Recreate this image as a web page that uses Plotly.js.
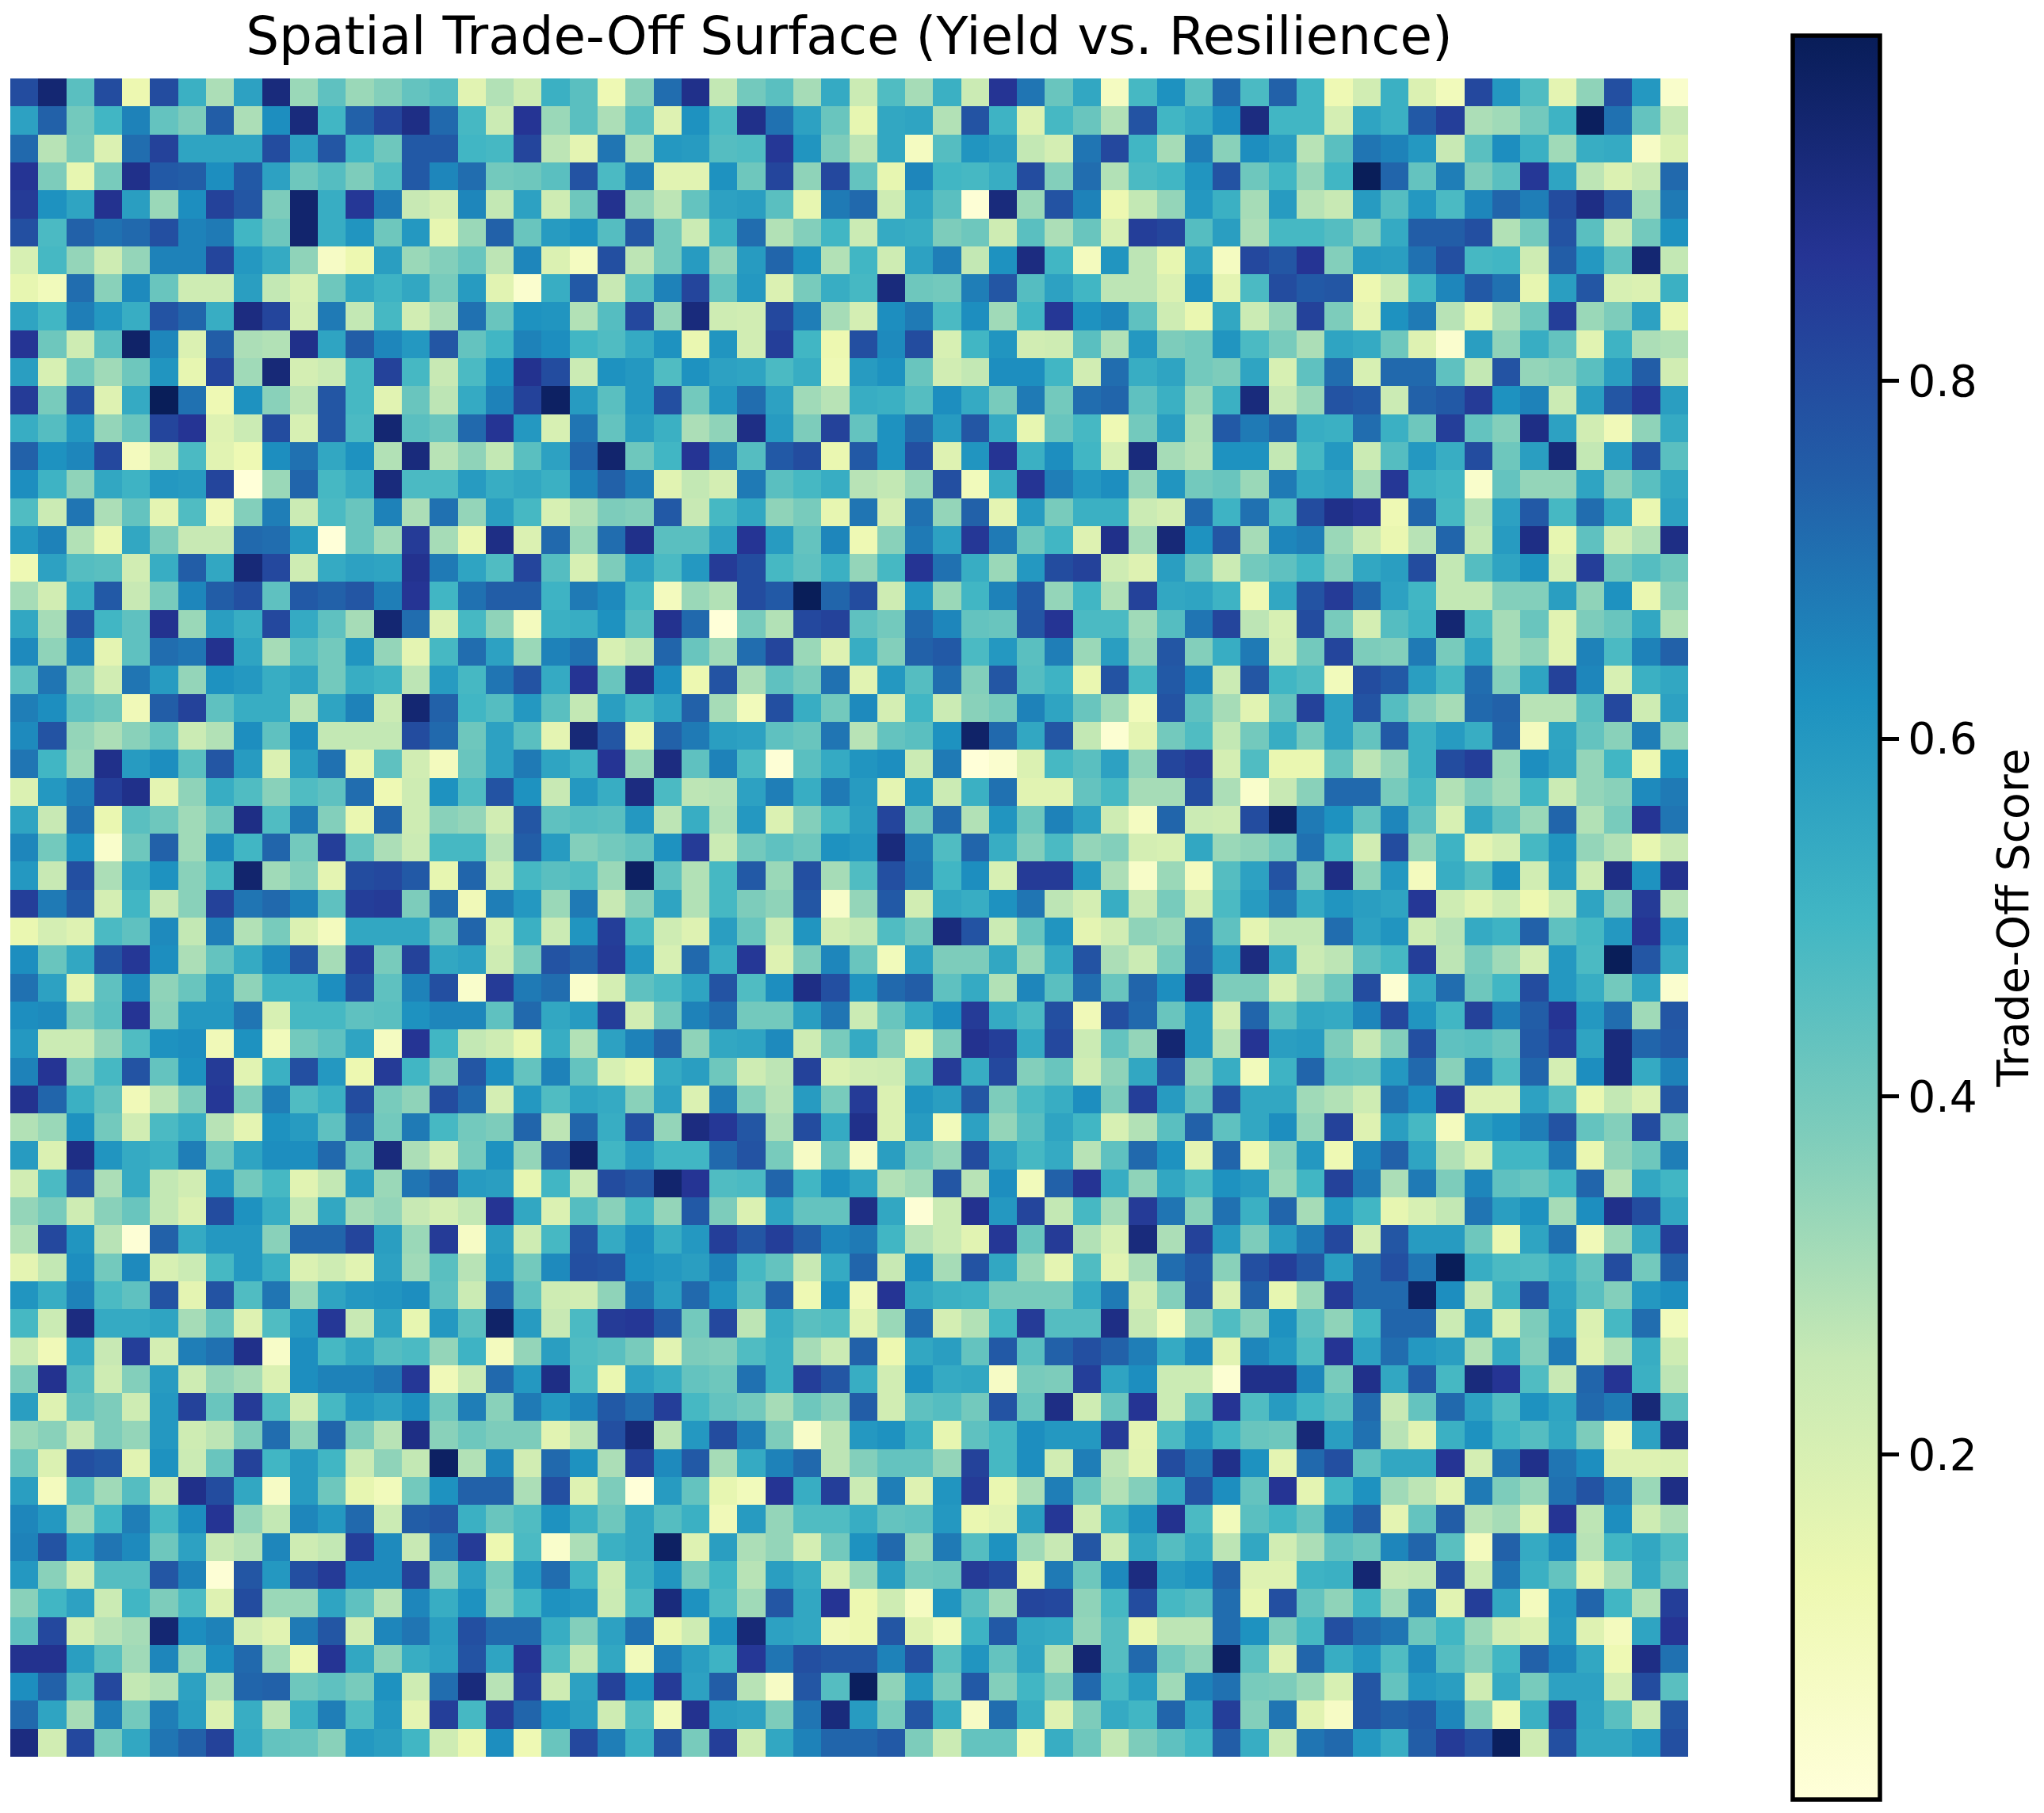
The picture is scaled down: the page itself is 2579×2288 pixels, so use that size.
<!DOCTYPE html>
<html><head><meta charset="utf-8">
<script src="https://cdn.plot.ly/plotly-3.0.1.min.js"></script>
<style>html,body{margin:0;padding:0;background:#fff}</style></head>
<body><div id="chart" style="width:2579px;height:2288px"></div>
<script>
// Trade-off score, in hundredths, one list per grid row
const r00=[80,94,45,80,13,80,52,30,57,92,33,44,33,37,43,46,17,29,23,52,45,12,36,71,89,26,40,45,31,54,24,47,31,52,24,87,69,42,55,8,49,62,45,72,48,74,50,12,22,52,19,10,81,60,47,16,35,79,60,5];
const r01=[57,74,40,50,66,43,38,75,30,63,92,50,74,82,90,72,49,24,87,33,45,30,45,18,62,48,89,70,57,42,15,55,56,29,78,51,18,49,42,29,78,50,54,63,91,50,50,21,56,52,76,84,30,32,40,51,98,70,43,25];
const r02=[72,28,39,19,71,83,56,56,56,80,57,77,50,41,76,76,50,49,82,27,16,69,29,60,59,46,47,86,61,38,27,55,8,46,61,58,26,21,69,81,50,31,67,36,63,58,28,45,69,66,60,25,45,63,52,32,53,54,7,19];
const r03=[87,38,15,39,89,76,75,63,76,57,41,46,38,47,76,65,71,40,41,45,78,48,67,17,17,62,41,82,35,81,43,15,65,50,49,53,80,37,71,29,48,50,61,78,41,50,34,50,99,73,43,67,38,45,86,56,27,19,25,72];
const r04=[85,62,56,88,58,33,63,83,77,38,95,53,86,68,25,21,65,26,57,23,41,88,34,27,43,57,58,45,15,68,72,23,56,45,2,92,33,78,66,13,26,34,60,52,31,59,28,25,59,46,60,48,65,73,67,80,90,78,32,68];
const r05=[79,48,74,70,72,79,66,68,50,41,95,53,61,41,60,15,33,74,42,59,62,46,77,40,24,52,71,29,37,50,24,54,53,38,41,23,45,30,42,20,84,82,46,58,30,49,49,46,37,54,75,75,79,29,40,78,45,24,40,62];
const r06=[20,49,34,23,34,66,66,82,60,54,35,7,13,58,33,37,42,27,65,19,8,79,27,40,59,34,59,73,62,29,50,23,57,67,26,62,91,50,9,61,27,15,57,8,81,77,87,37,59,58,70,79,49,50,23,75,60,44,94,26];
const r07=[15,10,71,36,64,42,23,23,58,26,20,41,55,51,55,39,59,17,4,53,76,25,46,66,82,43,60,19,39,53,49,92,41,40,67,77,46,57,50,27,27,19,63,16,48,80,76,77,13,24,50,65,76,70,15,58,77,20,19,52];
const r08=[56,50,67,60,53,78,73,53,91,82,21,68,26,49,22,30,70,42,62,61,29,46,81,34,92,23,22,81,67,31,21,63,68,48,63,32,50,86,62,65,44,23,14,55,24,34,83,38,16,62,68,28,14,30,41,84,33,38,57,14];
const r09=[87,41,23,45,96,65,19,75,30,29,89,56,75,65,60,77,43,50,66,63,50,47,54,62,14,61,22,84,50,13,79,64,80,20,50,61,22,23,45,29,60,38,40,61,48,39,30,56,54,41,18,4,58,35,53,43,17,51,30,29];
const r10=[58,20,40,32,41,61,15,82,32,93,21,24,49,83,49,25,48,62,88,80,24,62,60,47,62,57,56,48,53,12,59,62,42,22,26,63,63,50,22,71,53,56,40,38,56,20,44,71,20,72,72,44,26,78,34,36,45,58,75,22];
const r11=[85,39,79,18,54,99,70,12,62,36,27,77,49,17,42,27,54,66,83,97,59,45,60,79,40,60,71,57,32,28,53,52,46,63,54,39,68,40,71,73,44,52,33,52,92,25,33,78,76,24,74,76,85,62,66,24,58,77,86,58];
const r12=[53,46,60,34,42,82,87,18,24,80,20,77,48,94,45,42,72,87,60,20,69,43,58,52,30,35,90,59,38,83,43,62,72,59,77,54,15,42,49,12,40,58,29,76,68,73,53,52,71,52,41,84,43,37,90,57,22,11,35,54];
const r13=[74,62,65,81,9,23,48,17,12,63,70,55,62,29,92,28,35,26,45,57,73,95,41,50,87,68,46,76,80,14,76,62,79,18,61,87,52,63,50,20,92,31,28,62,62,26,49,60,24,46,60,53,80,41,58,93,26,59,78,45];
const r14=[63,51,35,55,51,60,59,82,1,33,73,49,54,92,48,48,59,53,55,52,66,74,67,17,26,21,68,45,49,53,28,26,33,79,10,53,87,67,60,63,34,61,40,42,33,68,55,57,31,86,52,50,5,43,34,34,56,36,45,55];
const r15=[47,24,69,30,43,16,47,11,37,67,24,48,42,66,30,70,34,58,49,20,29,38,37,76,25,49,55,35,39,15,69,21,70,34,74,16,59,39,52,52,24,21,72,51,70,47,80,89,87,12,73,49,28,57,76,49,71,55,14,57];
const r16=[60,66,29,14,55,38,25,25,72,71,59,1,42,32,85,31,14,90,19,72,33,71,89,45,45,57,87,59,43,65,12,36,68,57,86,68,41,50,18,89,31,93,62,77,31,65,67,33,24,14,28,73,26,59,90,15,44,22,29,90];
const r17=[12,57,46,45,22,53,75,55,93,81,23,54,57,56,88,68,56,47,82,46,20,38,57,48,60,85,80,49,44,52,34,49,87,70,53,33,60,80,83,23,18,58,42,24,40,44,50,37,55,58,80,26,46,56,62,20,84,41,46,41];
const r18=[31,22,53,76,25,39,65,75,79,44,76,74,77,67,87,50,70,75,75,51,68,64,49,9,33,29,80,76,99,73,80,23,60,33,50,66,76,34,50,29,83,55,56,51,12,55,78,85,73,57,50,26,26,37,37,58,35,62,14,36];
const r19=[55,31,78,50,44,88,33,58,53,81,54,44,31,94,71,18,49,35,9,52,53,62,46,88,72,1,39,29,81,83,44,40,72,65,43,42,77,87,48,48,32,46,69,82,27,20,80,39,21,46,51,94,48,31,42,17,38,42,55,29];
const r20=[64,35,66,16,44,71,69,88,56,31,46,40,61,34,16,49,71,57,33,66,70,20,26,73,42,32,71,82,33,18,53,37,74,76,48,60,45,67,33,58,34,77,37,53,68,21,40,82,38,37,68,39,56,31,35,17,66,48,66,74];
const r21=[44,69,36,22,69,59,34,62,60,53,56,40,53,51,27,59,49,69,78,54,87,42,89,63,13,78,30,44,39,70,17,60,46,71,37,77,46,51,14,78,49,76,65,24,77,50,47,10,80,76,58,49,71,37,56,83,65,20,52,55];
const r22=[67,63,44,41,11,75,83,44,53,53,27,56,66,24,94,74,50,46,60,45,26,58,49,56,74,31,10,79,53,40,64,21,50,24,36,39,66,56,42,32,10,78,44,31,17,43,83,57,78,46,36,31,72,74,28,28,45,81,23,57];
const r23=[64,78,34,30,36,43,24,29,63,44,63,26,26,26,80,72,41,57,45,16,93,77,13,74,68,58,57,44,42,69,28,43,45,62,96,72,55,77,26,3,16,40,47,26,40,53,40,57,43,76,52,59,53,73,9,56,43,36,67,33];
const r24=[69,50,33,89,59,63,45,77,59,19,58,70,15,44,22,9,42,57,68,56,51,87,33,91,44,66,48,2,45,54,61,63,24,68,1,4,19,49,45,57,35,82,85,21,47,14,14,43,27,34,52,80,84,33,63,57,34,50,13,62];
const r25=[19,60,67,84,89,16,35,53,47,36,47,44,71,12,23,62,47,78,62,25,60,53,91,48,27,28,57,67,53,68,59,16,61,24,52,70,17,17,43,49,31,31,80,30,5,25,36,72,72,39,49,29,37,32,50,24,34,36,64,68];
const r26=[56,25,70,14,45,41,32,41,90,47,68,37,14,73,23,36,34,22,77,44,46,45,60,27,53,29,60,19,37,49,58,82,39,72,29,61,41,66,57,23,8,73,24,23,80,97,68,62,43,65,44,20,55,44,33,73,29,39,87,69];
const r27=[65,40,62,5,41,74,32,64,50,73,40,84,43,30,24,49,49,28,75,59,37,40,43,62,85,24,40,44,41,62,60,92,68,47,73,53,37,48,34,37,21,20,55,33,35,40,70,49,22,80,34,51,16,21,49,61,34,29,15,25];
const r28=[60,25,79,30,53,62,36,49,95,32,37,16,80,81,76,15,73,22,49,45,47,33,97,44,29,49,76,33,79,31,47,79,69,50,63,20,85,85,60,30,6,33,9,46,57,78,38,90,35,60,9,53,46,62,22,59,23,90,62,88];
const r29=[84,68,76,21,50,25,36,83,69,72,66,44,84,85,38,71,11,67,60,33,68,25,36,56,29,49,38,35,77,6,34,76,22,55,53,62,69,27,21,53,25,39,21,48,59,69,54,61,58,56,86,23,17,23,13,24,56,36,85,28];
const r30=[14,21,18,48,44,64,26,67,29,39,19,9,55,55,55,41,73,20,52,24,61,84,49,23,18,58,42,24,61,22,26,47,40,92,78,24,42,61,16,22,35,33,73,44,16,26,26,71,57,61,23,28,54,51,74,44,49,60,87,60];
const r31=[63,42,55,78,86,63,30,43,54,64,77,31,84,39,83,55,57,23,39,78,74,85,60,20,72,53,86,18,38,65,42,10,57,38,38,55,33,54,78,30,24,39,74,58,91,56,24,27,44,49,84,27,39,32,21,60,48,99,77,54];
const r32=[70,57,16,44,64,35,42,59,35,51,51,63,79,44,66,79,5,85,68,71,5,21,44,48,56,78,47,63,90,79,61,72,75,44,54,29,65,45,71,42,73,63,90,38,38,20,32,41,80,3,54,71,41,50,80,60,53,40,56,4];
const r33=[63,64,38,45,87,36,60,60,69,20,49,49,44,45,62,65,65,44,72,55,59,84,22,40,66,71,40,40,58,69,24,42,54,63,85,54,48,79,11,79,72,42,60,21,73,45,55,54,65,81,61,50,83,67,75,87,60,71,32,77];
const r34=[60,24,24,34,47,62,63,11,62,10,40,44,56,8,87,50,26,23,14,53,29,57,66,74,35,55,56,64,23,39,54,37,14,38,88,84,54,81,24,43,34,94,60,28,87,58,59,38,25,37,79,44,45,42,76,84,56,92,73,76];
const r35=[66,87,37,49,78,43,62,85,17,52,79,60,13,85,50,37,77,63,43,66,43,20,15,54,58,41,23,27,83,19,22,23,46,85,53,81,37,42,22,35,55,79,35,53,10,51,73,44,43,60,72,36,67,47,73,21,63,92,54,66];
const r36=[88,73,52,43,11,27,38,86,38,67,47,52,80,39,35,80,72,21,60,47,56,54,36,57,19,68,37,28,59,39,85,19,61,58,77,38,48,53,63,38,84,59,42,79,55,55,32,29,23,70,63,85,18,18,57,46,14,26,19,77];
const r37=[29,33,62,40,22,48,53,28,16,62,59,44,74,40,68,49,40,38,73,27,73,53,79,34,91,86,77,30,80,54,89,19,59,10,57,34,45,56,50,20,29,45,74,44,55,63,34,83,18,58,49,9,58,62,67,78,43,37,80,37];
const r38=[59,19,90,61,54,52,67,41,56,63,63,72,42,92,30,21,39,62,34,76,96,50,58,50,50,72,78,39,7,42,7,58,39,34,80,57,49,54,28,44,72,62,16,73,13,35,60,12,65,74,56,29,19,50,50,68,14,35,41,67];
const r39=[22,48,78,30,54,26,22,60,40,49,17,26,58,33,69,75,59,58,15,50,24,80,77,95,87,47,48,73,50,62,56,29,32,77,28,63,10,74,87,53,35,55,48,62,59,33,50,83,68,30,68,38,65,44,42,50,73,28,55,50];
const r40=[34,39,23,36,42,26,19,80,62,53,26,55,31,34,25,21,26,87,55,19,46,36,49,34,76,38,19,56,43,43,90,55,2,24,88,60,82,26,49,31,85,69,36,70,52,73,31,60,50,15,20,26,69,58,62,31,63,89,80,55];
const r41=[29,81,61,28,2,74,54,60,60,36,73,73,82,58,33,85,7,58,23,49,78,54,63,53,60,84,77,84,75,65,68,50,28,24,17,86,42,85,29,20,92,30,83,59,38,58,68,81,21,77,59,59,41,14,56,70,11,33,55,84];
const r42=[16,26,63,40,64,20,24,49,60,52,19,23,17,57,32,45,28,60,40,64,79,78,62,60,58,66,49,43,25,54,73,25,63,31,78,55,33,16,47,17,30,71,76,36,79,84,77,58,72,79,69,99,53,48,47,53,43,80,40,74];
const r43=[61,53,66,48,44,78,16,78,47,69,33,56,60,61,63,44,24,73,44,23,22,35,68,58,72,61,46,74,12,62,11,87,55,52,51,39,39,39,54,68,21,37,77,19,74,15,33,85,72,72,97,63,25,52,77,56,45,37,60,63];
const r44=[49,24,91,54,54,56,31,42,18,47,60,86,25,56,15,60,45,96,59,25,48,85,86,76,40,81,27,53,45,47,17,33,71,21,29,50,85,46,46,90,25,10,35,47,36,62,44,35,50,73,73,24,59,20,38,58,19,49,71,10];
const r45=[24,11,54,25,84,21,67,70,89,6,63,49,55,46,48,34,51,9,34,58,47,45,39,17,38,37,47,52,31,24,74,13,55,58,43,76,45,74,79,74,67,54,64,17,65,60,47,87,57,71,60,58,29,54,37,68,18,29,53,23];
const r46=[38,88,46,23,37,59,23,34,31,19,63,66,66,69,86,11,24,72,60,90,48,14,57,53,43,41,70,52,84,77,53,22,62,54,55,7,39,38,84,56,63,24,24,3,89,89,65,39,89,55,76,49,92,87,47,25,73,87,52,27];
const r47=[58,18,43,38,23,60,83,42,85,47,22,49,60,57,63,41,67,36,68,60,65,76,71,84,49,43,40,31,41,36,75,22,44,46,40,78,42,90,23,42,87,24,45,87,47,59,50,45,72,25,43,72,57,47,62,56,72,68,93,45];
const r48=[33,36,25,38,34,60,23,27,38,71,35,73,38,28,90,36,41,38,38,17,27,79,93,27,60,80,67,38,6,27,60,62,52,15,44,49,63,60,60,85,16,48,60,50,42,41,93,58,70,28,17,52,62,50,46,55,38,11,57,90];
const r49=[41,19,79,77,17,62,24,42,83,50,59,50,24,35,26,97,29,65,22,72,62,30,83,64,76,31,54,66,72,27,37,43,43,34,83,49,63,22,67,27,17,80,70,89,62,16,72,79,44,55,55,87,21,69,89,69,63,18,18,19];
const r50=[58,9,45,32,46,23,89,80,55,7,59,41,15,10,40,62,74,74,30,79,18,38,1,59,43,15,10,87,53,84,24,67,18,61,85,14,30,67,42,29,37,54,78,63,43,87,16,50,62,32,27,17,68,38,33,70,78,68,33,90];
const r51=[65,60,32,50,67,49,63,87,34,26,65,60,72,24,75,77,52,42,47,62,52,41,55,46,52,11,59,34,47,47,53,43,44,60,14,17,58,86,22,52,61,88,48,10,45,50,43,66,75,16,43,75,28,31,16,87,27,63,23,30];
const r52=[66,78,60,69,64,41,57,25,28,65,23,26,84,64,25,69,85,13,48,5,30,52,55,97,18,58,30,34,21,40,62,72,33,68,46,62,32,25,77,23,55,46,53,27,55,22,30,44,41,65,73,45,9,74,54,64,28,50,55,47];
const r53=[60,36,21,46,46,77,66,2,77,60,79,85,64,64,83,35,57,39,60,71,51,23,52,61,39,50,28,58,53,19,33,58,40,41,85,81,15,68,41,64,91,59,62,74,18,18,51,52,94,25,26,79,24,69,52,43,16,30,54,42];
const r54=[36,50,57,24,50,38,48,18,80,33,33,56,44,28,65,53,62,37,50,62,60,24,48,92,62,48,32,77,55,87,13,23,8,61,45,32,82,81,35,49,80,49,46,71,15,79,43,35,50,32,68,17,84,55,9,60,73,50,29,84];
const r55=[44,81,21,28,31,94,63,66,21,17,68,77,22,65,69,58,79,72,72,53,37,57,70,14,23,62,93,57,55,11,13,77,18,10,51,76,55,54,34,46,14,27,27,71,62,38,49,79,72,69,41,50,33,22,19,59,18,9,56,87];
const r56=[88,88,58,45,32,65,33,63,72,32,13,87,55,35,53,57,78,56,87,47,26,55,10,67,58,51,86,69,79,77,77,66,79,45,61,43,56,29,94,46,72,40,35,97,45,18,73,53,60,47,64,46,37,50,74,65,55,12,90,70];
const r57=[63,74,46,81,26,29,57,29,73,74,41,44,39,62,23,71,92,28,84,23,57,83,62,85,57,75,28,7,77,46,98,35,60,39,76,37,50,38,72,49,58,32,66,70,39,38,33,20,77,43,60,58,23,54,39,57,57,21,80,45];
const r58=[72,56,31,67,40,67,58,19,53,27,52,67,47,60,16,84,49,85,73,62,58,23,47,10,88,58,57,38,69,92,59,39,77,54,7,71,53,18,38,54,50,73,56,84,37,69,17,7,77,74,76,65,37,12,52,85,56,45,24,77];
const r59=[91,22,81,39,55,69,74,83,54,43,42,36,60,58,50,23,14,63,12,42,81,67,52,78,39,84,23,55,66,73,73,76,38,24,43,43,11,53,41,26,38,44,50,75,53,24,69,72,60,53,75,85,80,98,23,79,55,55,60,79];
const rowsPct=[r00,r01,r02,r03,r04,r05,r06,r07,r08,r09,r10,r11,r12,r13,r14,r15,r16,r17,r18,r19,r20,r21,r22,r23,r24,r25,r26,r27,r28,r29,r30,r31,r32,r33,r34,r35,r36,r37,r38,r39,r40,r41,r42,r43,r44,r45,r46,r47,r48,r49,r50,r51,r52,r53,r54,r55,r56,r57,r58,r59];
const tickValues=[0.2,0.4,0.6,0.8];
const tickLabels=['0.2\u2009','0.4\u2009','0.6\u2009','0.8\u2009'];
const chartTitle='Spatial Trade-Off Surface (Yield vs. Resilience)';
const colorbarTitle='Trade-Off Score';

const ylGnBu=[[0,'#ffffd9'],[0.125,'#edf8b1'],[0.25,'#c7e9b4'],[0.375,'#7fcdbb'],[0.5,'#41b6c4'],[0.625,'#1d91c0'],[0.75,'#225ea8'],[0.875,'#253494'],[1,'#081d58']];
const font='"DejaVu Sans", sans-serif';
const W=2579,H=2288,L=13,R=2130,T=99,B=2217;

Plotly.newPlot('chart',[{
  type:'heatmap',
  z:rowsPct.map(r=>r.map(v=>v/100)),
  zmin:0.007,zmax:0.993,zsmooth:false,xgap:0,ygap:0,
  colorscale:ylGnBu,
  colorbar:{
    x:(2262-L)/(R-L),xref:'paper',xanchor:'left',
    y:0.5,yref:'paper',yanchor:'middle',
    thickness:110,thicknessmode:'pixels',
    len:2226,lenmode:'pixels',
    outlinewidth:5.5,outlinecolor:'#000',borderwidth:0,xpad:0,ypad:0,
    ticks:'outside',ticklen:22,tickwidth:5,tickcolor:'#000',
    tickmode:'array',tickvals:tickValues,ticktext:tickLabels,
    tickfont:{family:font,size:55,color:'#000'},
    title:{text:colorbarTitle,side:'right',font:{family:font,size:55.3,color:'#000'}}
  }
}],{
  width:W,height:H,
  paper_bgcolor:'#fff',plot_bgcolor:'#fff',
  margin:{l:L,r:W-R,t:T,b:H-B,pad:0,autoexpand:false},
  font:{family:font,color:'#000'},
  title:{text:chartTitle,font:{family:font,size:66,color:'#000'},
    x:(L+R)/2/W,xref:'container',xanchor:'center',
    y:1-45/H,yref:'container',yanchor:'middle'},
  xaxis:{visible:false,range:[-0.5,59.5],fixedrange:true},
  yaxis:{visible:false,range:[59.5,-0.5],fixedrange:true}
},{displayModeBar:false,staticPlot:true});
</script></body></html>
